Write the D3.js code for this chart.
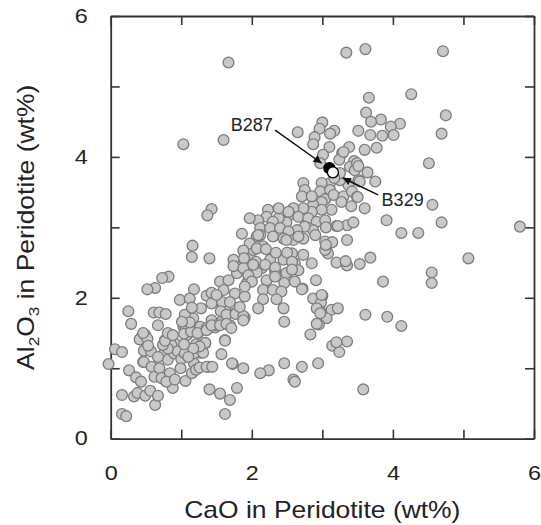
<!DOCTYPE html>
<html><head><meta charset="utf-8">
<script src="https://cdn.jsdelivr.net/npm/d3@7"></script>
<style>
html,body{margin:0;padding:0;background:#fff;}
text{font-family:"Liberation Sans",Arial,sans-serif;fill:#222;}
</style></head>
<body><svg id="c" width="541" height="525"></svg>
<script>
// ---- data (CaO wt%, Al2O3 wt%) ----
const cao = [1.67,1.03,1.60,3.34,3.61,4.71,4.26,3.66,4.75,3.62,3.83,3.69,4.10,3.97,4.01,3.85,3.68,3.51,4.69,3.77,3.60,4.51,2.65,3.00,2.96,3.17,3.11,2.89,2.87,3.10,3.38,3.28,3.01,3.24,3.45,3.39,3.64,3.75,3.51,2.97,
3.49,3.46,3.53,3.37,3.25,3.11,2.99,2.97,3.11,3.04,3.16,3.30,3.42,3.49,3.41,3.60,3.91,3.27,3.13,2.99,2.87,2.73,2.75,2.71,2.85,2.99,2.85,2.73,2.59,2.54,2.66,2.80,2.92,3.04,3.05,2.87,2.75,2.64,2.49,2.38,2.23,2.38,2.52,2.21,2.09,1.97,2.30,2.12,2.26,2.40,2.52,2.07,2.30,2.45,2.59,2.73,2.90,3.06,3.20,3.35,3.35,3.04,3.08,3.20,3.35,3.53,3.68,2.57,2.73,2.45,2.61,2.85,2.26,2.14,2.33,2.49,2.66,1.97,2.02,2.16,
3.30,3.51,3.25,3.17,
4.56,4.69,5.80,4.12,4.36,5.07,4.55,4.55,3.86,3.61,3.92,4.12,3.50,3.22,3.44,3.14,3.04,3.05,3.33,2.91,2.72,3.00,2.87,2.98,2.98,3.13,3.22,3.06,2.46,2.45,2.95,2.83,3.14,3.24,3.35,3.20,2.94,2.71,2.46,2.24,2.59,2.12,3.58,2.61,1.88,1.73,1.79,1.69,1.62,
1.86,2.12,2.49,2.66,1.16,1.15,1.40,1.97,2.07,1.88,2.20,2.34,2.50,1.74,1.90,2.06,2.19,2.33,2.57,2.57,1.79,1.93,2.07,1.55,1.67,1.93,2.21,2.33,2.46,2.61,2.71,2.99,1.18,1.36,1.43,1.57,1.76,1.90,2.16,2.30,2.42,2.16,2.35,2.09,1.90,1.76,1.62,2.92,2.97,2.92,0.98,1.12,1.28,1.17,1.05,1.43,1.57,1.69,1.48,1.12,1.24,1.62,1.34,1.57,1.10,1.27,1.18,1.38,
1.43,1.37,0.82,0.73,0.63,0.52,0.25,0.29,0.06,0.61,0.69,0.78,0.67,1.15,1.43,1.58,1.56,1.64,1.77,1.88,1.49,1.03,1.08,1.27,1.36,1.21,0.44,0.41,0.49,0.77,0.82,0.91,0.46,0.26,2.09,1.89,1.74,1.88,1.95,2.02,2.00,1.90,1.83,1.60,1.50,1.69,
0.16,-0.03,0.16,0.16,0.22,0.33,0.36,0.38,0.49,0.56,0.63,0.67,0.43,0.47,0.47,0.57,0.52,0.46,0.58,0.62,0.69,0.74,0.72,0.81,0.84,0.86,0.90,0.95,0.84,0.88,0.79,0.91,1.00,0.99,1.06,1.05,1.18,1.15,1.21,1.31,1.26,1.36,1.44,1.40,1.55,1.72,1.62,1.34,1.26,1.17,1.10,1.04,0.81,0.74,0.77,0.81,0.88,1.06,1.04,1.14,1.23,1.36,1.43,1.55,1.64,1.71,1.12,1.01,1.88,0.53,0.67];
const al2o3 = [5.34,4.18,4.24,5.48,5.53,5.50,4.89,4.84,4.59,4.63,4.53,4.50,4.47,4.43,4.31,4.30,4.31,4.37,4.33,4.13,4.10,3.91,4.35,4.49,4.40,4.37,4.33,4.28,4.18,4.14,4.14,4.05,4.03,3.96,3.94,3.86,3.78,3.65,3.67,3.91,
3.91,3.81,3.65,3.60,3.67,3.63,3.63,3.51,3.53,3.40,3.46,3.44,3.51,3.43,3.30,3.27,3.10,3.36,3.25,3.36,3.32,3.63,3.53,3.44,3.44,3.25,3.22,3.27,3.27,3.18,3.15,3.13,3.08,3.10,3.00,2.96,3.01,2.96,3.07,3.13,3.25,3.27,3.22,3.15,3.10,3.13,3.08,2.99,2.99,2.99,2.94,2.87,2.87,2.84,2.82,2.84,2.89,2.73,3.02,3.03,2.82,2.80,2.63,2.50,2.46,2.48,2.57,2.63,2.61,2.54,2.49,2.49,2.54,2.42,2.37,2.35,2.39,2.56,2.68,2.73,
4.07,3.87,3.77,3.70,
3.32,3.07,3.01,2.92,2.92,2.56,2.36,2.21,2.23,1.76,1.73,1.60,3.43,3.02,3.07,2.79,2.68,2.75,2.52,2.25,2.13,2.03,1.99,1.93,1.80,1.83,1.85,1.71,1.66,1.85,1.62,1.48,1.32,1.23,1.38,1.37,1.07,1.02,1.07,0.97,0.84,0.93,0.70,0.81,1.00,1.06,0.72,0.55,0.35,
2.91,2.89,2.82,2.87,2.74,2.58,2.56,2.77,2.70,2.67,2.69,2.64,2.64,2.54,2.53,2.51,2.47,2.43,2.51,2.40,2.35,2.38,2.36,2.23,2.25,2.21,2.25,2.30,2.21,2.23,2.12,2.04,2.12,2.03,2.07,1.93,2.06,2.02,2.11,2.11,2.09,1.98,1.98,1.85,1.72,1.78,1.83,1.85,1.78,1.63,1.97,1.99,1.85,1.71,1.76,1.68,1.66,1.61,1.58,1.57,1.50,1.40,1.35,1.20,1.28,1.22,1.07,1.02,
3.26,3.17,2.30,2.28,2.14,2.12,1.81,1.63,1.27,1.79,1.79,1.77,1.61,1.86,1.92,1.94,1.81,1.76,1.77,1.74,1.61,1.59,1.47,1.59,1.57,1.34,1.45,1.41,1.47,1.40,1.47,1.35,1.09,0.97,2.89,2.56,2.45,2.42,2.32,2.47,2.23,2.16,1.87,2.11,2.04,1.94,
1.23,1.06,0.62,0.35,0.32,0.60,0.87,0.65,0.61,0.68,0.48,0.61,0.81,1.09,1.25,1.24,1.42,1.50,1.02,0.88,1.00,1.19,0.86,1.12,1.45,1.33,1.21,1.24,0.93,0.72,0.81,0.84,1.13,1.00,0.82,1.21,1.21,0.93,0.98,1.22,1.01,1.02,1.02,0.70,0.64,1.07,1.39,1.36,1.31,1.28,1.16,1.34,1.28,1.33,1.39,1.50,1.47,1.58,1.49,1.52,1.50,1.54,1.61,1.61,1.63,1.57,1.65,1.66,1.68,1.32,1.16];
const specialNames = ["B287","B329"];
const specialCaO = [3.10,3.15];
const specialAl2O3 = [3.84,3.78];
// arrow tails / heads and label anchors (data units)
const arrowTailX = [2.33,3.79], arrowTailY = [4.38,3.46];
const arrowHeadX = [2.99,3.29], arrowHeadY = [3.91,3.70];
const labelX = [1.70,3.84], labelY = [4.37,3.30];
const xTicks = [0,1,2,3,4,5,6];
const yTicks = [0,1,2,3,4,5,6];
const labelledTicks = [0,2,4,6];

const svg = d3.select("#c");
const x = d3.scaleLinear().domain([0,6]).range([110.7,534]);
const y = d3.scaleLinear().domain([0,6]).range([438.7,16]);
const axisColor = "#333";
const fmt = d => labelledTicks.includes(d) ? String(d) : "";

function styleAxis(g){
  g.selectAll("path.domain").attr("stroke",axisColor).attr("stroke-width",1.8);
  g.selectAll(".tick line").attr("stroke",axisColor).attr("stroke-width",1.6);
}
const gb = svg.append("g").attr("transform",`translate(0,${y(0)})`)
  .call(d3.axisBottom(x).tickValues(xTicks).tickSizeInner(-9).tickSizeOuter(0).tickPadding(27).tickFormat(fmt));
const gl = svg.append("g").attr("transform",`translate(${x(0)},0)`)
  .call(d3.axisLeft(y).tickValues(yTicks).tickSizeInner(-9).tickSizeOuter(0).tickPadding(23).tickFormat(fmt));
const gt = svg.append("g").attr("transform",`translate(0,${y(6)})`)
  .call(d3.axisTop(x).tickValues(xTicks).tickSizeInner(-9).tickSizeOuter(0).tickFormat(""));
const gr = svg.append("g").attr("transform",`translate(${x(6)},0)`)
  .call(d3.axisRight(y).tickValues(yTicks).tickSizeInner(-9).tickSizeOuter(0).tickFormat(""));
[gb,gl,gt,gr].forEach(styleAxis);
[gb,gl].forEach(g=>g.selectAll("text").attr("font-size",19.5).attr("fill","#222")
  .attr("font-family","Liberation Sans, Arial, sans-serif")
  .each(function(){
    const t=d3.select(this); const tx=+t.attr("x")||0, ty=+t.attr("y")||0;
    t.attr("x",0).attr("y",0).attr("transform",`translate(${tx},${ty}) scale(1.2,1)`);
  }));

// points
const pts = cao.map((c,i)=>({c, a:al2o3[i]}));
svg.append("g").selectAll("circle").data(pts).join("circle")
  .attr("cx",d=>x(d.c)).attr("cy",d=>y(d.a)).attr("r",5.4)
  .attr("fill","#c9c9c9").attr("stroke","#7c7c7c").attr("stroke-width",1.3);

// special samples
svg.append("g").selectAll("circle").data(specialNames).join("circle")
  .attr("cx",(d,i)=>x(specialCaO[i])).attr("cy",(d,i)=>y(specialAl2O3[i])).attr("r",5.5)
  .attr("fill",(d,i)=>i===0?"#000":"#fff").attr("stroke","#000").attr("stroke-width",1.3);

// arrows
svg.append("defs").append("marker").attr("id","ah").attr("viewBox","0 0 10 10")
  .attr("refX",10).attr("refY",5).attr("markerWidth",11).attr("markerHeight",8)
  .attr("markerUnits","userSpaceOnUse").attr("orient","auto")
  .append("path").attr("d","M0,0L10,5L0,10Z").attr("fill","#111");
svg.append("g").selectAll("line").data(specialNames).join("line")
  .attr("x1",(d,i)=>x(arrowTailX[i])).attr("y1",(d,i)=>y(arrowTailY[i]))
  .attr("x2",(d,i)=>x(arrowHeadX[i])).attr("y2",(d,i)=>y(arrowHeadY[i]))
  .attr("stroke","#111").attr("stroke-width",1.5).attr("marker-end","url(#ah)");
svg.append("g").selectAll("text").data(specialNames).join("text")
  .attr("x",(d,i)=>x(labelX[i])).attr("y",(d,i)=>y(labelY[i]))
  .attr("font-size",18).text(d=>d);

// axis titles
svg.append("text").attr("transform",`translate(${(x(0)+x(6))/2},518) scale(1.15,1)`)
  .attr("text-anchor","middle").attr("font-size",23).text("CaO in Peridotite (wt%)");
const yt = svg.append("text").attr("transform",`translate(34,${(y(0)+y(6))/2}) rotate(-90) scale(1.15,1)`)
  .attr("text-anchor","middle").attr("font-size",23);
yt.append("tspan").text("Al");
yt.append("tspan").attr("font-size",15).attr("dy",5).text("2");
yt.append("tspan").attr("dy",-5).text("O");
yt.append("tspan").attr("font-size",15).attr("dy",5).text("3");
yt.append("tspan").attr("dy",-5).text(" in Peridotite (wt%)");
</script></body></html>
